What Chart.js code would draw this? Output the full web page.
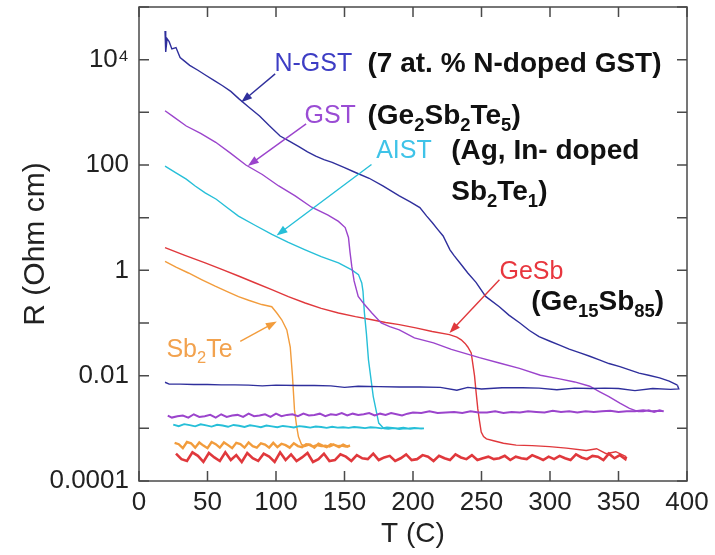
<!DOCTYPE html>
<html><head><meta charset="utf-8">
<script src="https://cdn.jsdelivr.net/npm/chart.js@4.4.1/dist/chart.umd.min.js"></script>
<style>html,body{margin:0;padding:0;background:#fff;}canvas{display:block;}</style>
</head><body>
<canvas id="c" width="715" height="555"></canvas>
<script>
// ---------- data (T in °C, R in Ohm cm) ----------
const ngstHeatT = [19,19.5,20.5,22,24,27,30,33,37,43,49,55,61,67,73,80,88,95,103,110,117,123,129,135,141,150,158,168,178,190,198,205,210,214,218,222,227,230,234,240,246,253,263,270,278,285,292,300,307,314,322,329,336,343,351,358,365,372,380,387,393];
const ngstHeatR = [3.5e4,1.4e4,2.5e4,2.2e4,1.6e4,1.7e4,1.1e4,9.5e3,7.8e3,6.3e3,5.0e3,4.0e3,3.2e3,2.5e3,1.8e3,1.26e3,850,560,355,280,220,178,148,126,112,89,72,56,40,26,20,15.5,10.7,8.1,6.0,4.5,2.45,1.9,1.41,0.89,0.59,0.32,0.204,0.141,0.1,0.072,0.055,0.045,0.038,0.032,0.027,0.0234,0.02,0.017,0.0148,0.0129,0.0112,0.0102,0.0091,0.0079,0.0066];
const ngstCoolT = [394,388,375,362,350,340,330,318,305,292,280,265,250,240,232,220,205,190,175,160,150,140,128,115,100,90,80,70,60,50,40,30,22,19];
const ngstCoolR = [0.0056,0.0055,0.0057,0.0052,0.0057,0.0058,0.0057,0.0058,0.0054,0.0058,0.0059,0.0059,0.0056,0.0060,0.0053,0.0060,0.0061,0.0061,0.0062,0.0063,0.0060,0.0064,0.0065,0.0065,0.0066,0.0064,0.0066,0.0067,0.0067,0.0068,0.0068,0.0069,0.0069,0.0075];

const gstHeatT = [19,25,34.5,45,56,67,78,90,102,114,126,138,145.6,150.5,152.9,154,155.3,157,160,164.6,170,176.8,183,190,201,215,228,248.5,263,277.7,293,307,318,329,336,343,351,358,364];
const gstHeatR = [1070,830,550,400,270,166,100,66,40,26,15.8,11.2,8.5,6.5,4.2,2.24,1.2,0.63,0.32,0.224,0.155,0.1,0.085,0.074,0.052,0.042,0.0316,0.022,0.0174,0.0138,0.0102,0.0087,0.0076,0.0063,0.005,0.004,0.003,0.0024,0.0021];
const gstCoolT = [368,372,376,380,383,380,374,368,362,356,350,344,338,332,326,320,314,308,302,296,290,284,278,272,266,260,254,248,242,236,230,224,218,212,206,200,196,192,188,184,180,176,172,168,164,160,156,152,148,144,140,136,132,128,124,120,116,112,108,104,100,96,92,88,84,80,76,72,68,64,60,56,52,48,44,40,36,32,28,24,21];
const gstCoolR = [0.0021,0.0022,0.00205,0.0022,0.0021,0.00215,0.0021,0.0022,0.0021,0.0021,0.00205,0.00215,0.0021,0.00205,0.0021,0.0020,0.0021,0.00205,0.00215,0.0020,0.00205,0.0021,0.0020,0.00205,0.00195,0.0021,0.0020,0.0020,0.0021,0.00195,0.00205,0.0020,0.00195,0.0021,0.00195,0.0020,0.0019,0.00175,0.00185,0.00195,0.0018,0.0019,0.00175,0.00195,0.00185,0.0018,0.0019,0.00175,0.00195,0.0018,0.00185,0.0017,0.0019,0.0018,0.00175,0.0019,0.0017,0.00185,0.0018,0.0017,0.0019,0.00165,0.00185,0.00175,0.0017,0.0019,0.00165,0.0018,0.00175,0.00165,0.00185,0.0016,0.0018,0.0017,0.00165,0.00185,0.0016,0.00175,0.0017,0.0016,0.00175];

const aistHeatT = [19,27,34.5,41,48.3,56.4,64,72.6,85,97,109,121.3,133,145.6,155.3,160.2,162.6,163.5,164.5,166,167.5,171,175,178.5];
const aistHeatR = [95,71,54,40,29.5,22.4,15.8,10.7,7.1,4.8,3.4,2.45,1.82,1.38,1.02,0.83,0.575,0.4,0.16,0.063,0.02,0.004,0.00126,0.001];
const aistCoolT = [182,186,190,194,198,202,206,208,205,201,197,193,189,185,181,177,173,169,165,161,157,153,149,145,141,137,133,129,125,121,117,113,109,105,101,97,93,89,85,81,77,73,69,65,61,57,53,49,45,41,37,33,29,25];
const aistCoolR = [0.00098,0.00101,0.00097,0.00100,0.00098,0.00101,0.00099,0.00100,0.00100,0.00102,0.00099,0.00103,0.00100,0.00102,0.00104,0.00100,0.00103,0.00105,0.00101,0.00104,0.00106,0.00102,0.00105,0.00103,0.00107,0.00102,0.00106,0.00108,0.00103,0.00107,0.00110,0.00104,0.00108,0.00111,0.00105,0.00109,0.00113,0.00105,0.00110,0.00114,0.00106,0.00112,0.00116,0.00107,0.00113,0.00117,0.00108,0.00114,0.00119,0.00109,0.00115,0.00120,0.00110,0.00118];

const gesbHeatT = [19,33,48.3,60,72.6,85,96.9,109,121.3,133,145.6,158,170,180,190,202,214,226.6,232,235.2,238,240,242.5,244.9,246,247.3,248.5,249.8,251.5,253.6,258.8,266,275.3,287,299.6,312,326.4,334,341,348,355.6];
const gesbHeatR = [2.7,1.95,1.38,1.05,0.78,0.575,0.43,0.316,0.24,0.19,0.155,0.132,0.115,0.102,0.093,0.081,0.069,0.06,0.054,0.048,0.041,0.035,0.027,0.01,0.005,0.00234,0.0014,0.00085,0.0007,0.00063,0.00058,0.00052,0.00048,0.00047,0.00045,0.00042,0.00038,0.00041,0.00033,0.00036,0.00029];
const gesbCoolT = [355,351,347,343,339,335,331,327,323,319,315,311,307,303,299,295,291,287,283,279,275,271,267,263,259,255,251,247,243,239,235,231,227,223,219,215,211,207,203,199,195,191,187,183,179,175,171,167,163,159,155,151,147,143,139,135,131,127,123,119,115,111,107,103,99,95,91,87,83,79,75,71,67,63,59,55,51,47,43,39,35,31,27];
const gesbCoolR = [2.6e-4,3.1e-4,2.7e-4,3.3e-4,2.5e-4,2.9e-4,3.0e-4,2.6e-4,2.8e-4,3.2e-4,2.5e-4,2.7e-4,3.0e-4,2.6e-4,2.9e-4,2.5e-4,2.8e-4,3.1e-4,2.6e-4,2.7e-4,2.9e-4,2.5e-4,3.0e-4,2.7e-4,2.6e-4,2.9e-4,2.7e-4,
  2.5e-4,3.1e-4,2.6e-4,2.8e-4,3.2e-4,2.5e-4,2.7e-4,3.0e-4,2.4e-4,2.9e-4,3.1e-4,2.6e-4,2.5e-4,3.2e-4,2.7e-4,2.4e-4,3.0e-4,2.8e-4,2.5e-4,3.3e-4,2.6e-4,2.7e-4,3.1e-4,2.4e-4,2.9e-4,3.2e-4,2.5e-4,
  2.4e-4,3.3e-4,2.6e-4,2.3e-4,3.4e-4,2.8e-4,2.4e-4,3.2e-4,2.5e-4,3.5e-4,2.3e-4,2.9e-4,3.3e-4,2.4e-4,2.7e-4,3.4e-4,2.3e-4,3.1e-4,2.5e-4,3.5e-4,2.4e-4,2.8e-4,3.4e-4,2.3e-4,3.0e-4,3.5e-4,2.4e-4,2.6e-4,3.3e-4];

const sbteHeatT = [19,27,36.1,46,55.6,64,72.6,80,89.6,96.9,100.6,104.2,107.9,110.4,112,113.5,115,116.4,118.8];
const sbteHeatR = [1.48,1.15,0.89,0.66,0.5,0.4,0.316,0.27,0.224,0.204,0.155,0.115,0.074,0.035,0.01,0.00224,0.00112,0.00069,0.00048];
const sbteCoolT = [121,124,127,130,133,136,139,142,145,148,151,154,152,149,146,143,140,137,134,131,128,125,122,119,116,113,110,107,104,101,98,95,92,89,86,83,80,77,74,71,68,65,62,59,56,53,50,47,44,41,38,35,32,29,26];
const sbteCoolR = [4.6e-4,4.9e-4,4.5e-4,4.8e-4,4.6e-4,4.7e-4,4.5e-4,4.9e-4,4.6e-4,4.7e-4,4.5e-4,4.7e-4,
  4.5e-4,4.9e-4,4.4e-4,4.8e-4,5.0e-4,4.4e-4,4.7e-4,5.1e-4,4.3e-4,4.9e-4,5.0e-4,4.4e-4,4.6e-4,5.2e-4,4.3e-4,4.8e-4,5.1e-4,4.4e-4,5.3e-4,4.3e-4,4.9e-4,5.2e-4,4.3e-4,4.6e-4,5.4e-4,4.3e-4,5.0e-4,5.3e-4,4.2e-4,4.8e-4,5.4e-4,4.3e-4,5.0e-4,5.5e-4,4.2e-4,4.7e-4,5.4e-4,4.3e-4,5.2e-4,5.5e-4,4.2e-4,5.0e-4,5.3e-4];

const xTickValues = [0,50,100,150,200,250,300,350,400];
const yTickValues = [1e-4,1e-3,1e-2,1e-1,1,10,100,1e3,1e4,1e5];
const yTickLabels = ['0.0001','','0.01','','1','','100','','10⁴',''];

const seriesNames = ['N-GST','GST','AIST','GeSb','Sb2Te'];

// ---------- styling ----------
const FONT = "'Liberation Sans', Arial, Helvetica, sans-serif";
Chart.defaults.font.family = FONT;
const lineColors = ['#2f2f9c','#9b44cc','#26bfd8','#e0383c','#f29c3c'];
const textColors = ['#3d3dc4','#9a4cd4','#3fc3e8','#e8363e','#f2a24e'];
const coolWidths = [1.4, 2.0, 1.9, 2.6, 2.4];

function pts(T, R) { return T.map((t, i) => ({x: t, y: R[i]})); }
const all = [
  [ngstHeatT, ngstHeatR, ngstCoolT, ngstCoolR],
  [gstHeatT, gstHeatR, gstCoolT, gstCoolR],
  [aistHeatT, aistHeatR, aistCoolT, aistCoolR],
  [gesbHeatT, gesbHeatR, gesbCoolT, gesbCoolR],
  [sbteHeatT, sbteHeatR, sbteCoolT, sbteCoolR]
];
const datasets = [];
all.forEach((s, k) => {
  const [hT, hR, cT, cR] = s;
  const n = hT.length - 1;
  datasets.push({label: seriesNames[k] + ' heating', data: pts(hT, hR), borderColor: lineColors[k],
    borderWidth: 1.4, pointRadius: 0, showLine: true, tension: 0, fill: false});
  datasets.push({label: seriesNames[k] + ' cooling', data: [{x: hT[n], y: hR[n]}].concat(pts(cT, cR)),
    borderColor: lineColors[k], borderWidth: coolWidths[k], pointRadius: 0, showLine: true, tension: 0, fill: false});
});

// ---------- annotations (anchored in data coordinates) ----------
const notes = [
  {text: 'N-GST', T: 98.9, R: 8900, size: 25, weight: 'normal', color: textColors[0]},
  {text: '(7 at. % N-doped GST)', T: 166.8, R: 8900, size: 28, weight: 'bold', color: '#111'},
  {text: 'GST', T: 120.8, R: 933, size: 25, weight: 'normal', color: textColors[1]},
  {text: '(Ge_2Sb_2Te_5)', T: 166.8, R: 933, size: 28, weight: 'bold', color: '#111'},
  {text: 'AIST', T: 173.1, R: 200, size: 25, weight: 'normal', color: textColors[2]},
  {text: '(Ag, In- doped', T: 227.9, R: 200, size: 28, weight: 'bold', color: '#111'},
  {text: 'Sb_2Te_1)', T: 227.9, R: 33.9, size: 28, weight: 'bold', color: '#111'},
  {text: 'GeSb', T: 263.1, R: 1.03, size: 25, weight: 'normal', color: textColors[3]},
  {text: '(Ge_{15}Sb_{85})', T: 286.3, R: 0.275, size: 28, weight: 'bold', color: '#111'},
  {text: 'Sb_2Te', T: 20, R: 0.0339, size: 25, weight: 'normal', color: textColors[4]}
];
const arrows = [
  {from: [99.4, 5370], to: [74.6, 1550], color: lineColors[0]},
  {from: [122, 603], to: [79.4, 95.5], color: lineColors[1]},
  {from: [169.7, 102], to: [100.4, 4.57], color: lineColors[2]},
  {from: [263.1, 0.66], to: [226.6, 0.0646], color: lineColors[3]},
  {from: [73.9, 0.0447], to: [100.6, 0.107], color: lineColors[4]}
];

function parseRich(str) {
  const parts = []; let buf = ''; let i = 0;
  while (i < str.length) {
    if (str[i] === '_') {
      if (buf) { parts.push({t: buf, sub: false}); buf = ''; }
      if (str[i + 1] === '{') { const j = str.indexOf('}', i); parts.push({t: str.slice(i + 2, j), sub: true}); i = j + 1; }
      else { parts.push({t: str[i + 1], sub: true}); i += 2; }
    } else { buf += str[i]; i++; }
  }
  if (buf) parts.push({t: buf, sub: false});
  return parts;
}
function drawRich(ctx, note, x, yMid) {
  const base = yMid + note.size * 0.36;
  ctx.fillStyle = note.color; ctx.textBaseline = 'alphabetic'; ctx.textAlign = 'left';
  let cx = x;
  parseRich(note.text).forEach(p => {
    const s = p.sub ? note.size * 0.66 : note.size;
    ctx.font = `${note.weight} ${s}px ${FONT}`;
    ctx.fillText(p.t, cx, p.sub ? base + note.size * 0.25 : base);
    cx += ctx.measureText(p.t).width;
  });
}

const decorPlugin = {
  id: 'decor',
  afterDatasetsDraw(chart) {
    const {ctx, chartArea: a, scales: {x, y}} = chart;
    ctx.save();
    ctx.strokeStyle = '#4a4a4a'; ctx.lineWidth = 1.5;
    ctx.strokeRect(a.left, a.top, a.right - a.left, a.bottom - a.top);
    const tl = 10;
    ctx.beginPath();
    x.ticks.forEach(t => {
      const px = x.getPixelForValue(t.value);
      ctx.moveTo(px, a.bottom); ctx.lineTo(px, a.bottom - tl);
      ctx.moveTo(px, a.top); ctx.lineTo(px, a.top + tl);
    });
    y.ticks.forEach(t => {
      const py = y.getPixelForValue(t.value);
      ctx.moveTo(a.left, py); ctx.lineTo(a.left + tl, py);
      ctx.moveTo(a.right, py); ctx.lineTo(a.right - tl, py);
    });
    ctx.stroke();
    arrows.forEach(ar => {
      const x0 = x.getPixelForValue(ar.from[0]), y0 = y.getPixelForValue(ar.from[1]);
      const x1 = x.getPixelForValue(ar.to[0]), y1 = y.getPixelForValue(ar.to[1]);
      const ang = Math.atan2(y1 - y0, x1 - x0);
      const hl = 11, hw = 4;
      ctx.strokeStyle = ar.color; ctx.fillStyle = ar.color; ctx.lineWidth = 1.4;
      ctx.beginPath(); ctx.moveTo(x0, y0);
      ctx.lineTo(x1 - Math.cos(ang) * hl * 0.8, y1 - Math.sin(ang) * hl * 0.8); ctx.stroke();
      ctx.beginPath();
      ctx.moveTo(x1, y1);
      ctx.lineTo(x1 - Math.cos(ang) * hl - Math.sin(ang) * hw, y1 - Math.sin(ang) * hl + Math.cos(ang) * hw);
      ctx.lineTo(x1 - Math.cos(ang) * hl + Math.sin(ang) * hw, y1 - Math.sin(ang) * hl - Math.cos(ang) * hw);
      ctx.closePath(); ctx.fill();
    });
    notes.forEach(n => drawRich(ctx, n, x.getPixelForValue(n.T), y.getPixelForValue(n.R)));
    ctx.restore();
  }
};

new Chart(document.getElementById('c'), {
  type: 'scatter',
  data: {datasets},
  options: {
    responsive: false,
    animation: false,
    events: [],
    layout: {padding: {top: 7, right: 28, left: 0, bottom: 0}},
    plugins: {legend: {display: false}, tooltip: {enabled: false}},
    scales: {
      x: {
        type: 'linear', min: 0, max: 400,
        afterBuildTicks: s => { s.ticks = xTickValues.map(v => ({value: v})); },
        ticks: {autoSkip: false, maxRotation: 0, padding: 6, color: '#222', font: {size: 26}},
        grid: {display: false, drawTicks: false},
        border: {display: false},
        title: {display: true, text: 'T (C)', color: '#222', font: {size: 28}, padding: {top: 0, bottom: 4}},
        afterFit: s => { s.height = 74; s.paddingLeft = 0; s.paddingRight = 0; }
      },
      y: {
        type: 'logarithmic', min: 1e-4, max: 1e5,
        afterBuildTicks: s => { s.ticks = yTickValues.map(v => ({value: v})); },
        ticks: {autoSkip: false, padding: 10, color: '#222', font: {size: 26},
          callback: (v, i) => yTickLabels[i]},
        grid: {display: false, drawTicks: false},
        border: {display: false},
        title: {display: true, text: 'R (Ohm cm)', color: '#222', font: {size: 30}, padding: {top: 18, bottom: 0}},
        afterFit: s => { s.width = 139; s.paddingTop = 0; s.paddingBottom = 0; }
      }
    }
  },
  plugins: [decorPlugin]
});
</script>
</body></html>
